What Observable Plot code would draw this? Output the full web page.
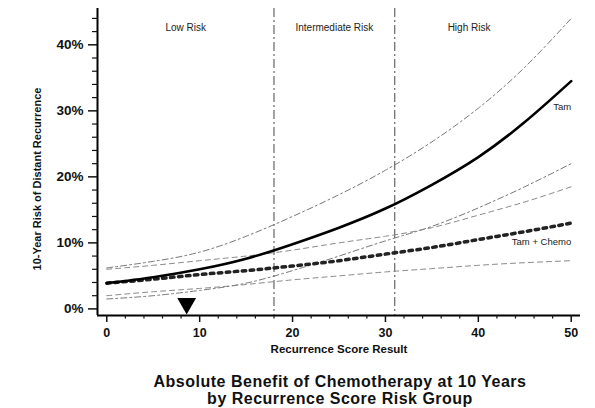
<!DOCTYPE html>
<html><head><meta charset="utf-8">
<script src="https://cdn.jsdelivr.net/npm/d3@7"></script>
<script src="https://cdn.jsdelivr.net/npm/@observablehq/plot@0.6"></script>
<style>
body{margin:0;background:#fff;font-family:"Liberation Sans",Arial,sans-serif;}
#chart{width:595px;height:360px;}
#caption{padding-left:85px;margin-top:13px;text-align:center;font-weight:bold;font-size:16px;line-height:17px;letter-spacing:0.5px;color:#111;}
</style></head><body><div id="chart"></div>
<div id="caption">Absolute Benefit of Chemotherapy at 10 Years<br>by Recurrence Score Risk Group</div>
<script>
// Recurrence score (x) and 10-year distant recurrence risk in % (y)
const score      = [0, 5, 10, 15, 20, 25, 30, 35, 40, 45, 50];
const tam        = [3.9, 4.8, 6.0, 7.6, 9.8, 12.3, 15.2, 18.8, 23.0, 28.3, 34.5];
const tamUpper   = [6.2, 7.2, 8.6, 11.0, 14.0, 17.3, 21.0, 25.3, 30.4, 36.6, 44.0];
const tamLower   = [1.5, 2.0, 2.8, 3.9, 5.8, 8.0, 10.3, 12.5, 15.3, 18.5, 22.0];
const chemo      = [3.9, 4.5, 5.2, 5.8, 6.5, 7.3, 8.3, 9.3, 10.5, 11.7, 13.0];
const chemoUpper = [6.0, 6.6, 7.3, 8.0, 8.9, 10.0, 11.0, 12.3, 14.2, 16.2, 18.5];
const chemoLower = [2.0, 2.6, 3.1, 3.7, 4.4, 5.0, 5.6, 6.1, 6.6, 7.0, 7.3];

const riskCutoffs = [18, 31];
const riskLabels  = ["Low Risk", "Intermediate Risk", "High Risk"];
const riskLabelX  = [8.5, 24.5, 39];
const patientScore = [8.6];

const seriesLabels  = ["Tam", "Tam + Chemo"];
const seriesLabelX  = [50, 50];
const seriesLabelY  = [30.6, 10.1];

const xMajorTicks = [0, 10, 20, 30, 40, 50];
const xMinorTicks = [2, 4, 6, 8, 12, 14, 16, 18, 22, 24, 26, 28, 32, 34, 36, 38, 42, 44, 46, 48];
const yMajorTicks = [0, 10, 20, 30, 40];
const yMinorTicks = [2, 4, 6, 8, 12, 14, 16, 18, 22, 24, 26, 28, 32, 34, 36, 38, 42, 44];

const rows = score.map((s, i) => ({
  score: s, tam: tam[i], tamUpper: tamUpper[i], tamLower: tamLower[i],
  chemo: chemo[i], chemoUpper: chemoUpper[i], chemoLower: chemoLower[i]
}));

const font = "'Liberation Sans', Arial, sans-serif";

const chart = Plot.plot({
  width: 595, height: 360,
  marginLeft: 97, marginRight: 15, marginTop: 8, marginBottom: 45,
  x: {domain: [-1, 51]},
  y: {domain: [-1, 45.5]},
  style: {fontFamily: font, background: "white", color: "#111"},
  marks: [
    Plot.ruleX(riskCutoffs, {stroke: "#666", strokeWidth: 1.2, strokeDasharray: "9,3,2,3"}),
    Plot.line(rows, {x: "score", y: "tamUpper", curve: "natural", stroke: "#777", strokeWidth: 1, strokeDasharray: "6,3,2,3"}),
    Plot.line(rows, {x: "score", y: "tamLower", curve: "natural", stroke: "#777", strokeWidth: 1, strokeDasharray: "6,3,2,3"}),
    Plot.line(rows, {x: "score", y: "chemoUpper", curve: "natural", stroke: "#888", strokeWidth: 1, strokeDasharray: "5,4"}),
    Plot.line(rows, {x: "score", y: "chemoLower", curve: "natural", stroke: "#888", strokeWidth: 1, strokeDasharray: "5,4"}),
    Plot.line(rows, {x: "score", y: "chemo", curve: "natural", stroke: "#222", strokeWidth: 3.5, strokeDasharray: "3.5,4.5"}),
    Plot.line(rows, {x: "score", y: "tam", curve: "natural", stroke: "#000", strokeWidth: 2.6}),
    Plot.text(seriesLabels, {x: (d, i) => seriesLabelX[i], y: (d, i) => seriesLabelY[i], textAnchor: "end", fontSize: 9.5, fill: "#222"}),
    Plot.text(riskLabels, {x: (d, i) => riskLabelX[i], frameAnchor: "top", dy: 15, fontSize: 10, fill: "#222", letterSpacing: "0.3px"}),
    Plot.dot(patientScore, {x: d => d, frameAnchor: "bottom", dy: -12, symbol: "triangle", rotate: 180, r: 7, fill: "#000", stroke: "none"}),
    // axes
    Plot.ruleY([-1], {stroke: "#000", strokeWidth: 2}),
    Plot.ruleX([-1], {stroke: "#000", strokeWidth: 2}),
    Plot.axisX(xMajorTicks, {tickSize: 7, tickPadding: 6, tickFormat: d => d, fontSize: 12.5, fontWeight: "bold", label: null, strokeWidth: 1.5}),
    Plot.axisX(xMinorTicks, {tickSize: 3.5, fill: "none", label: null, strokeWidth: 1.2}),
    Plot.axisY(yMajorTicks, {tickSize: 9, tickPadding: 5, tickFormat: d => d + "%", fontSize: 13.5, fontWeight: "bold", label: null, strokeWidth: 1.5}),
    Plot.axisY(yMinorTicks, {tickSize: 5, fill: "none", label: null, strokeWidth: 1.2}),
    Plot.text(["10-Year Risk of Distant Recurrence"], {frameAnchor: "left", textAnchor: "middle", dx: -60, dy: 17, rotate: -90, fontSize: 11, fontWeight: "bold"}),
    Plot.text(["Recurrence Score Result"], {frameAnchor: "bottom", dy: 37, fontSize: 11.5, fontWeight: "bold", letterSpacing: "0.8px"})
  ]
});
document.getElementById("chart").appendChild(chart);
</script>
</body></html>
